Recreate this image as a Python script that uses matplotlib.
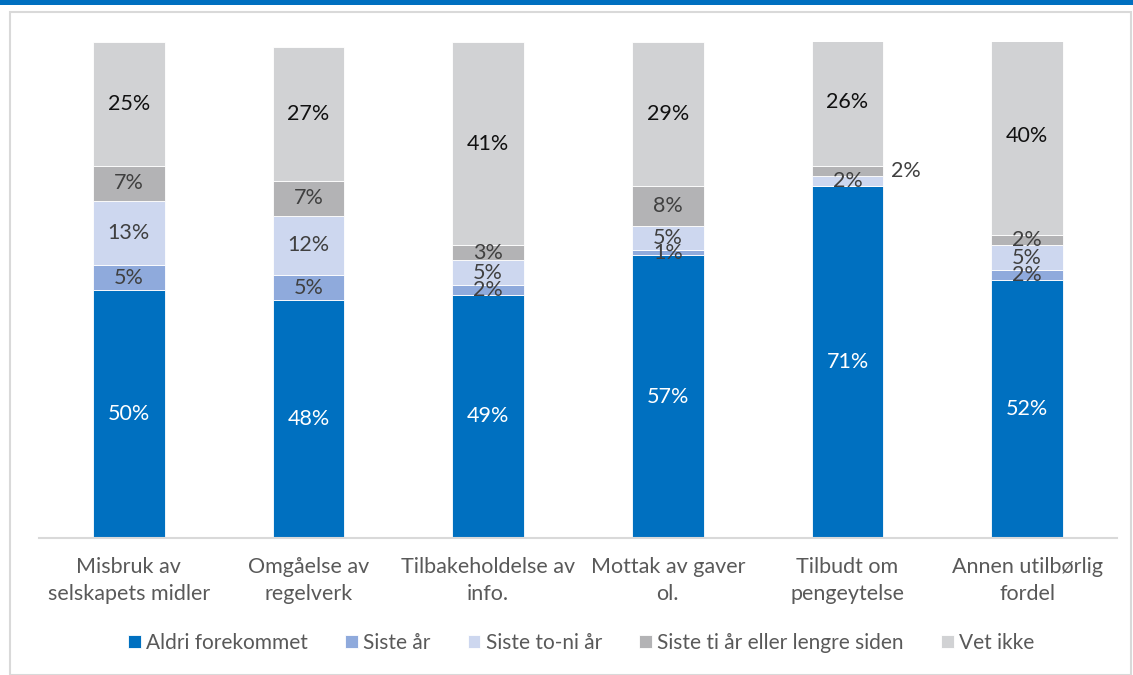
import matplotlib.pyplot as plt
from matplotlib.patches import Rectangle
import numpy as np

plt.rcParams['font.family'] = ['Lato', 'DejaVu Sans']

kategorier = ["Misbruk av\nselskapets midler", "Omgåelse av\nregelverk",
              "Tilbakeholdelse av\ninfo.", "Mottak av gaver\nol.",
              "Tilbudt om\npengeytelse", "Annen utilbørlig\nfordel"]
serier = ["Aldri forekommet", "Siste år", "Siste to-ni år",
          "Siste ti år eller lengre siden", "Vet ikke"]
aldri = [50, 48, 49, 57, 71, 52]
siste_aar = [5, 5, 2, 1, 0, 2]
to_ni = [13, 12, 5, 5, 2, 5]
ti_aar = [7, 7, 3, 8, 2, 2]
vet_ikke = [25, 27, 41, 29, 26, 40]

farger = ["#0070C0", "#8FAADC", "#CDD7EF", "#B3B3B5", "#D1D2D4"]
tekstfarger = ["white", "#404040", "#404040", "#404040", "#111111"]

fig = plt.figure(figsize=(11.33, 6.75), dpi=100)
W, H = 1133, 675

# ramme og blå topplinje
fig.add_artist(Rectangle((10 / W, 0), 1121 / W, 1 - 12 / H, transform=fig.transFigure,
                         fill=False, edgecolor="#D9D9D9", linewidth=1.5))
fig.add_artist(Rectangle((0, 1 - 4.5 / H), 1, 4.5 / H, transform=fig.transFigure,
                         facecolor="#0070C0", edgecolor="none"))

ax = fig.add_axes([39 / W, 1 - 538 / H, 1078 / W, 496 / H])
x = np.arange(len(kategorier))
bunn = np.zeros(len(kategorier))
data = [aldri, siste_aar, to_ni, ti_aar, vet_ikke]
for i, (navn, verdier) in enumerate(zip(serier, data)):
    verdier = np.array(verdier, dtype=float)
    ax.bar(x, verdier, 0.4, bottom=bunn, color=farger[i], edgecolor="white",
           linewidth=0.6, label=navn)
    for j, v in enumerate(verdier):
        if v <= 0:
            continue
        ymid = bunn[j] + v / 2
        if kategorier[j].startswith("Tilbudt") and i == 3:
            # for smal etikett – plasseres til høyre for søylen
            ax.text(x[j] + 0.24, ymid, f"{v:.0f}%", ha="left", va="center",
                    fontsize=15.5, color="#404040")
        else:
            ax.text(x[j], ymid, f"{v:.0f}%", ha="center", va="center",
                    fontsize=15.5, color=tekstfarger[i])
    bunn += verdier

ax.set_xlim(-0.5, len(kategorier) - 0.5)
ax.set_ylim(0, 100)
ax.set_yticks([])
ax.set_xticks(x)
ax.set_xticklabels(kategorier, fontsize=15.5, color="#595959", linespacing=1.4)
ax.tick_params(axis="x", length=0, pad=14)
for s in ["top", "right", "left"]:
    ax.spines[s].set_visible(False)
ax.spines["bottom"].set_color("#D9D9D9")
ax.spines["bottom"].set_linewidth(1.5)

fig.legend(loc="center", bbox_to_anchor=(0.513, 1 - 643 / H), ncol=5, frameon=False,
           fontsize=15, handlelength=0.6, handleheight=0.6, handletextpad=0.25,
           columnspacing=1.8, labelcolor="#595959")

fig.savefig("out.png", dpi=100)
